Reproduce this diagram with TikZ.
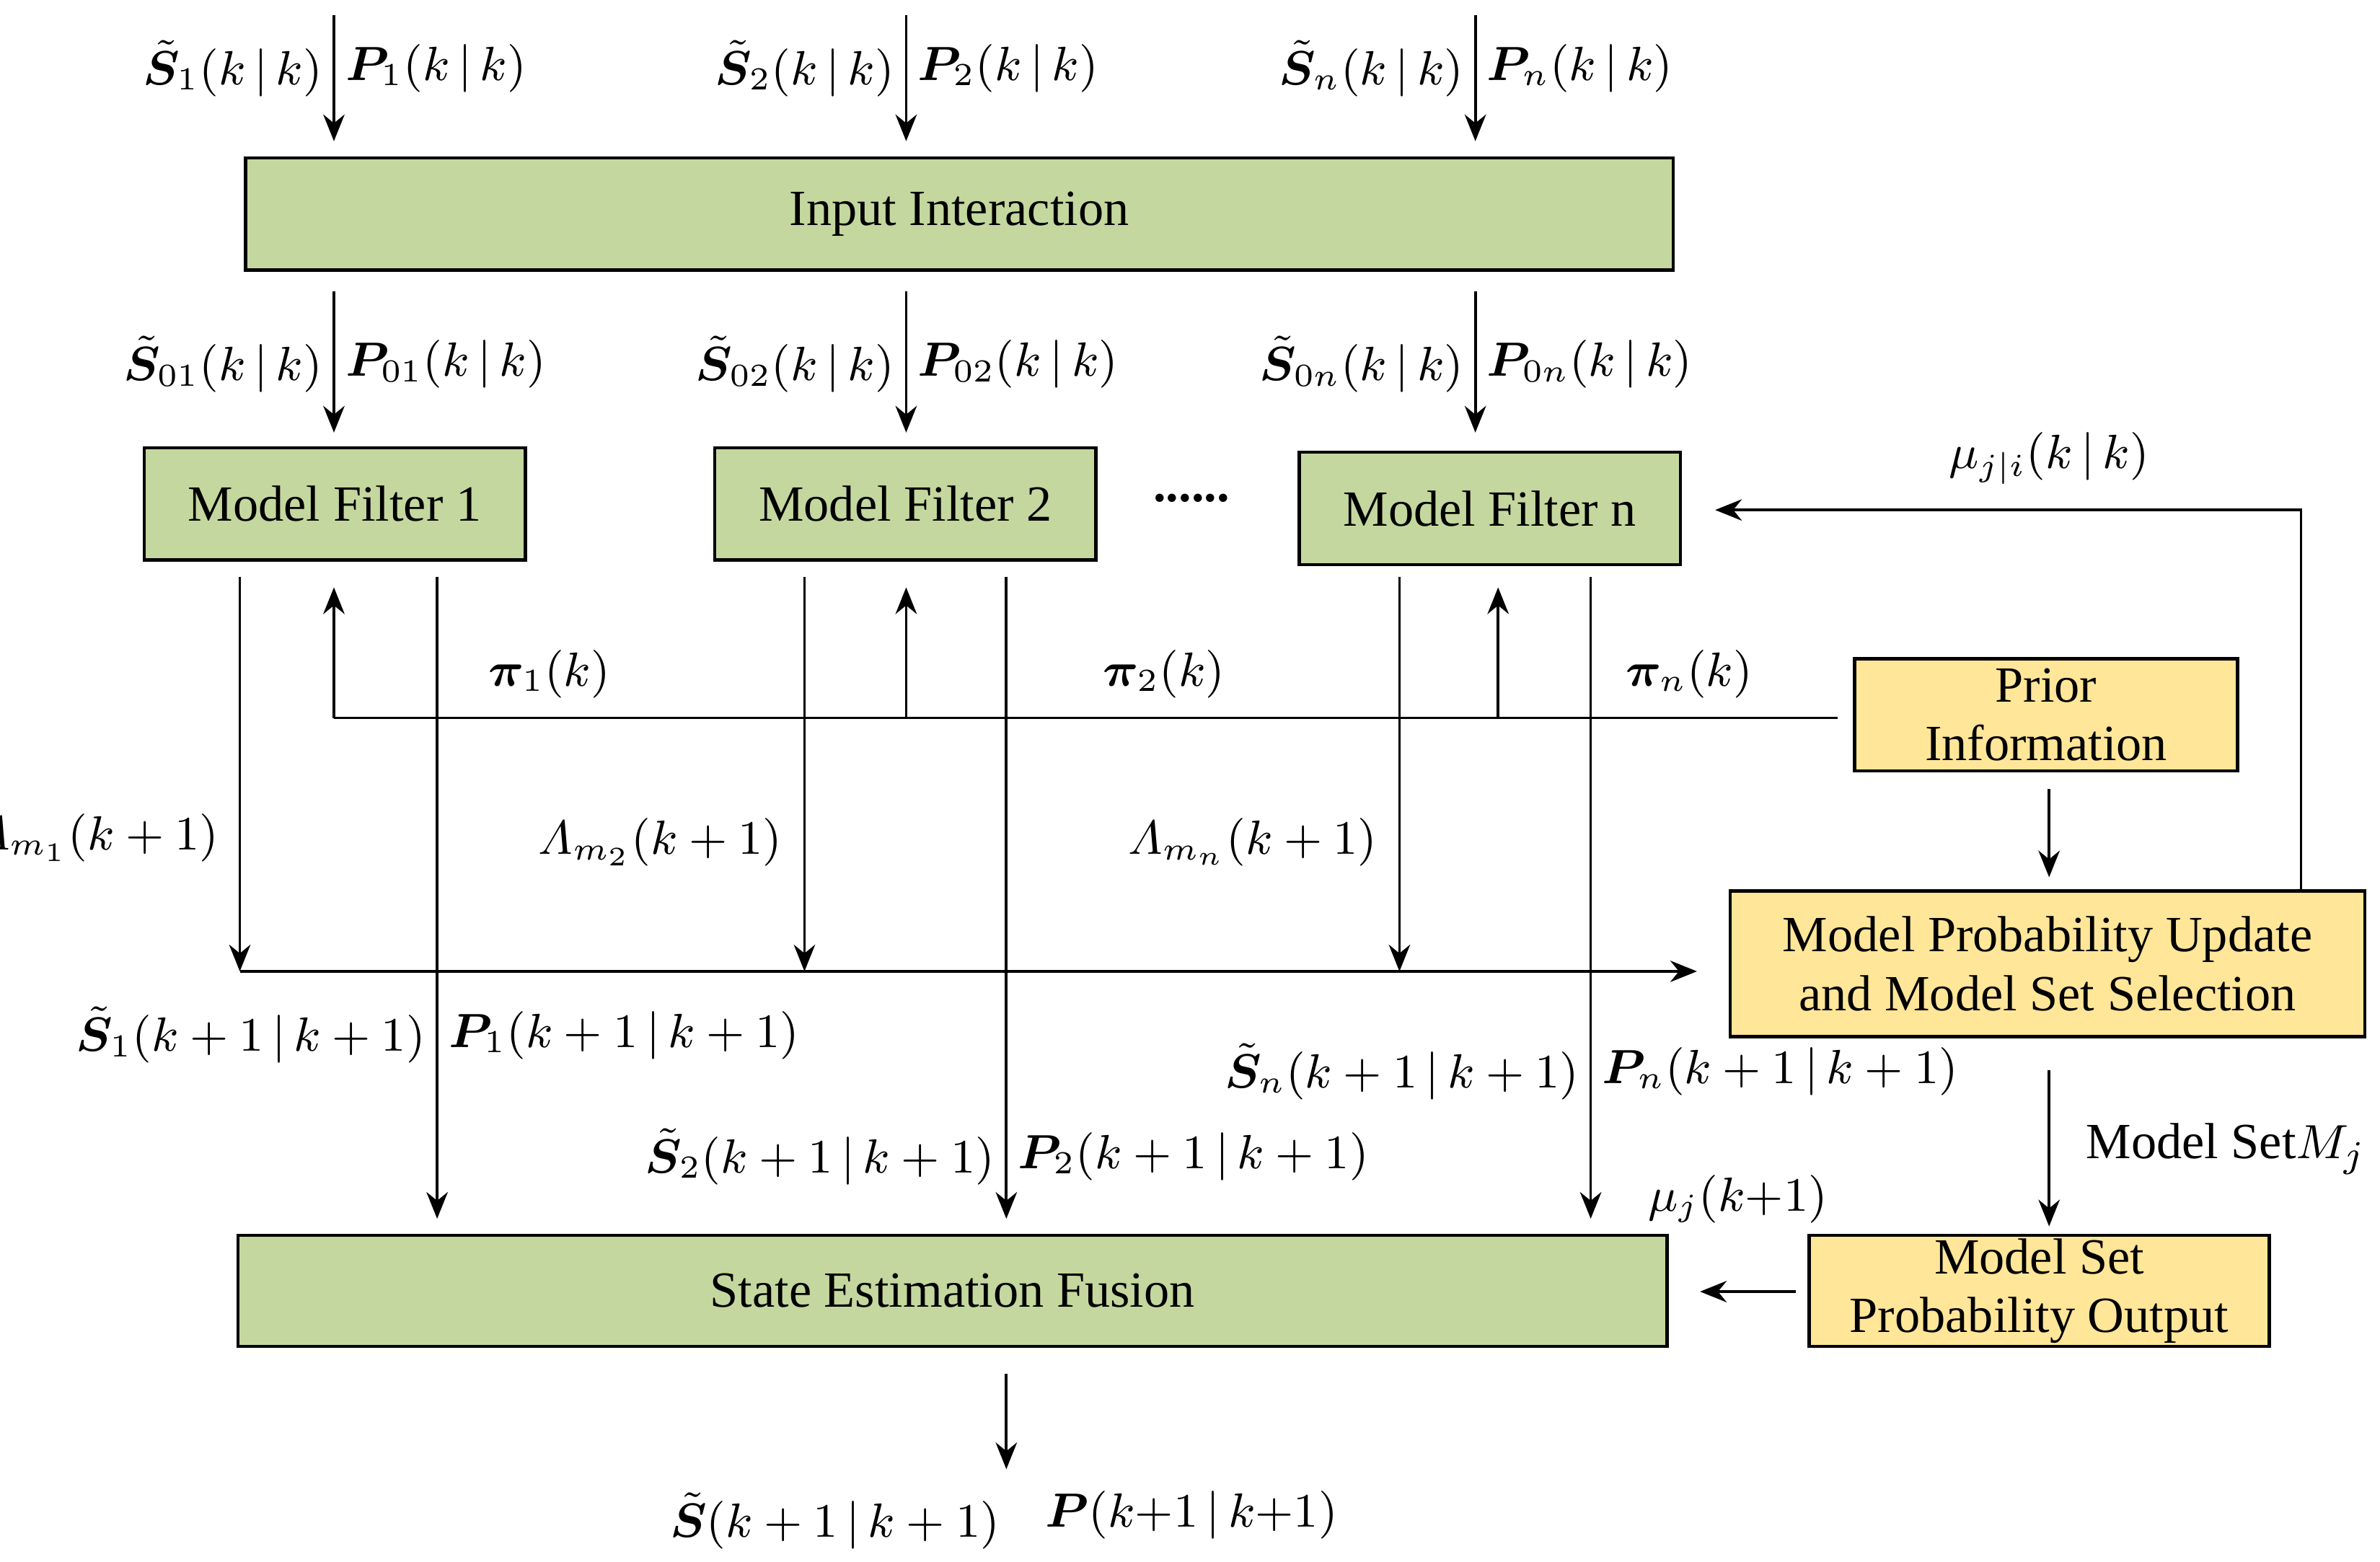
\documentclass[tikz,border=0pt]{standalone}
\usepackage{amsmath,bm}
\usepackage{fontspec}
\setmainfont{Liberation Serif}
\usetikzlibrary{arrows.meta}
\definecolor{gbox}{HTML}{C4D79F}
\definecolor{ybox}{HTML}{FFE699}
\newcommand{\St}{\tilde{\bm S}}
\begin{document}
\begin{tikzpicture}[x=0.01cm,y=-0.01cm,
  font=\fontsize{9.5}{11}\selectfont,
  ml/.style={font=\fontsize{8.6}{10}\selectfont},
  box/.style={draw,line width=0.6pt,inner sep=0pt,align=center},
  arr/.style={-{Stealth[length=5pt,width=4pt]},line width=0.5pt},
  ln/.style={line width=0.5pt}]
\useasboundingbox (0,0) rectangle (1568,1029);
% boxes
\node[box,fill=gbox,minimum width=9.40cm,minimum height=0.74cm] (ii) at (632,141) {Input Interaction};
\node[box,fill=gbox,minimum width=2.51cm,minimum height=0.74cm] (m1) at (220.5,332) {Model Filter 1};
\node[box,fill=gbox,minimum width=2.51cm,minimum height=0.74cm] (m2) at (596.5,332) {Model Filter 2};
\node[box,fill=gbox,minimum width=2.51cm,minimum height=0.74cm] (mn) at (981.5,335) {Model Filter n};
\node at (785,328) {\textbf{......}};
\node[box,fill=ybox,minimum width=2.52cm,minimum height=0.74cm] (pi) at (1348,471) {Prior\\Information};
\node[box,fill=ybox,minimum width=4.18cm,minimum height=0.96cm] (mp) at (1349,635) {Model Probability Update\\and Model Set Selection};
\node[box,fill=ybox,minimum width=3.03cm,minimum height=0.73cm] (mo) at (1343.5,850.5) {Model Set\\Probability Output};
\node[box,fill=gbox,minimum width=9.41cm,minimum height=0.73cm] (sf) at (627.5,850.5) {State Estimation Fusion};
% top inputs
\foreach \x/\i/\y in {220/1/a,597/2/b,972/n/c}{
  \coordinate (t\y) at (\x,10); \coordinate (u\y) at (\x,93);
  \draw[arr] (t\y) -- (u\y);
  \node[ml,anchor=east,inner sep=2pt] at (\x,45) {$\St_{\i}(k\,|\,k)$};
  \node[ml,anchor=west,inner sep=2pt] at (\x,45) {$\bm P_{\i}(k\,|\,k)$};
  \coordinate (v\y) at (\x,192); \coordinate (w\y) at (\x,285);
  \draw[arr] (v\y) -- (w\y);
}
\node[ml,anchor=east,inner sep=2pt] at (220,240) {$\St_{01}(k\,|\,k)$};
\node[ml,anchor=west,inner sep=2pt] at (220,240) {$\bm P_{01}(k\,|\,k)$};
\node[ml,anchor=east,inner sep=2pt] at (597,240) {$\St_{02}(k\,|\,k)$};
\node[ml,anchor=west,inner sep=2pt] at (597,240) {$\bm P_{02}(k\,|\,k)$};
\node[ml,anchor=east,inner sep=2pt] at (972,240) {$\St_{0n}(k\,|\,k)$};
\node[ml,anchor=west,inner sep=2pt] at (972,240) {$\bm P_{0n}(k\,|\,k)$};
% prior line and up arrows
\coordinate (pl) at (220,473);
\draw[ln] (pi.west) ++(-10,2) coordinate (pe) -- (pl);
\foreach \x/\n in {220/a,597/b,987/c}{
  \coordinate (q\n) at (\x,473); \coordinate (r\n) at (\x,387);
  \draw[arr] (q\n) -- (r\n);}
\node[ml] at (362,444) {$\bm\pi_1(k)$};
\node[ml] at (767,444) {$\bm\pi_2(k)$};
\node[ml] at (1113,444) {$\bm\pi_n(k)$};
% down arrows
\foreach \x/\n in {158/a,530/b,922/c}{
  \coordinate (d\n) at (\x,380); \coordinate (e\n) at (\x,640);
  \draw[arr] (d\n) -- (e\n);}
\foreach \x/\n in {288/a,663/b,1048/c}{
  \coordinate (f\n) at (\x,380); \coordinate (g\n) at (\x,803);
  \draw[arr] (f\n) -- (g\n);}
\node[ml,anchor=east,inner sep=2pt] at (152,552) {$\varLambda_{m_1}(k+1)$};
\node[ml,anchor=east,inner sep=2pt] at (523,555) {$\varLambda_{m_2}(k+1)$};
\node[ml,anchor=east,inner sep=2pt] at (915,555) {$\varLambda_{m_n}(k+1)$};
% horizontal to MPU
\coordinate (h0) at (158,640);
\draw[arr] (h0) -- (1118,640);
\draw[arr] (1350,520) -- (1350,578);
\draw[arr] (1516,587) -- (1516,336) -- (1130,336);
\node[ml] at (1350,302) {$\mu_{j|i}(k\,|\,k)$};
\draw[arr] (1350,705) -- (1350,808);
\node[anchor=west] at (1362,757) {Model Set$M_j$};
\draw[arr] (1183,851) -- (1120,851);
\node[ml] at (1145,790) {$\mu_j(k{+}1)$};
% state labels
\node[ml,anchor=east,inner sep=2pt] at (288,682) {$\St_1(k+1\,|\,k+1)$};
\node[ml,anchor=west,inner sep=2pt] at (288,682) {$\bm P_1(k+1\,|\,k+1)$};
\node[ml,anchor=east,inner sep=2pt] at (663,762) {$\St_2(k+1\,|\,k+1)$};
\node[ml,anchor=west,inner sep=2pt] at (663,762) {$\bm P_2(k+1\,|\,k+1)$};
\node[ml,anchor=east,inner sep=2pt] at (1048,706) {$\St_n(k+1\,|\,k+1)$};
\node[ml,anchor=west,inner sep=2pt] at (1048,706) {$\bm P_n(k+1\,|\,k+1)$};
% output
\draw[arr] (663,905) -- (663,968);
\node[ml] at (550,1002) {$\St(k+1\,|\,k+1)$};
\node[ml] at (785,998) {$\bm P(k{+}1\,|\,k{+}1)$};
\end{tikzpicture}
\end{document}
